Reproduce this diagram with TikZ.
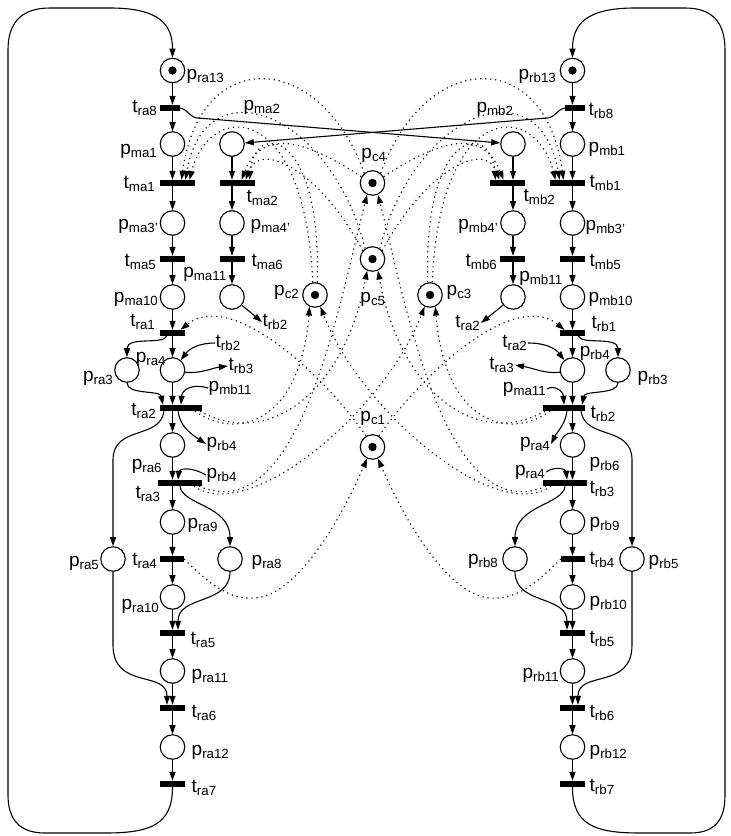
\documentclass[tikz,border=0pt]{standalone}
\usepackage{fontspec}
\setmainfont{Liberation Sans}
\usetikzlibrary{arrows.meta, calc}
\newcommand{\lfont}{\fontsize{19}{21}\selectfont}
\newcommand{\pname}[1]{p\textsubscript{#1}}
\newcommand{\tname}[1]{t\textsubscript{#1}}
\tikzset{
    place/.style={circle, draw=black, line width=1.1pt, minimum size=24.5pt, inner sep=0pt},
    token/.style={place, path picture={\fill[black] (path picture bounding box.center) circle (4.2pt);}},
    trans/.style={fill=black, inner sep=0pt, minimum height=6pt, minimum width=#1},
    trans/.default=25pt,
    txt/.style={inner sep=0.5pt, font=\lfont},
    arc/.style={->, line width=1.1pt},
    ctl/.style={->, line width=1.1pt, dash pattern=on 1.2pt off 3.8pt}
}

\begin{document}
\begin{tikzpicture}[x=1pt, y=-1pt, >={Triangle[length=9pt,width=6pt]}]
    \path[use as bounding box] (0,0) rectangle (731,836);

    % left robot column
    \node[token] (pra13) at (172.5,70.5) {};
    \node[trans=20pt] (tra8) at (170,108) {};
    \node[place] (pma1) at (172.5,144) {};
    \node[trans=35pt] (tma1) at (177.5,183) {};
    \node[place] (pma3) at (172.5,223) {};
    \node[trans] (tma5) at (172.5,259) {};
    \node[place] (pma10) at (172.5,297) {};
    \node[trans] (tra1) at (172.5,333) {};
    \node[place] (pra4) at (172.5,370) {};
    \node[place] (pra3) at (127,370) {};
    \node[trans=42pt] (tra2) at (181,408) {};
    \node[place] (pra6) at (172.5,445) {};
    \node[trans=44pt] (tra3) at (180,483) {};
    \node[place] (pra9) at (172.5,522) {};
    \node[trans=24pt] (tra4) at (172,559) {};
    \node[place] (pra5) at (113,559) {};
    \node[place] (pra8) at (230,559) {};
    \node[place] (pra10) at (172.5,597) {};
    \node[trans] (tra5) at (172.5,633) {};
    \node[place] (pra11) at (172.5,671) {};
    \node[trans] (tra6) at (172.5,708) {};
    \node[place] (pra12) at (172.5,747) {};
    \node[trans] (tra7) at (172.5,784) {};
    \node[place] (pma2) at (232,144) {};
    \node[trans=35pt] (tma2) at (237.5,183) {};
    \node[place] (pma4) at (232,223) {};
    \node[trans] (tma6) at (232.5,259) {};
    \node[place] (pma11) at (232,297) {};

    % right robot column
    \node[token] (prb13) at (572.5,70.5) {};
    \node[trans=20pt] (trb8) at (575,108) {};
    \node[place] (pmb1) at (572.5,144) {};
    \node[trans=35pt] (tmb1) at (567.5,183) {};
    \node[place] (pmb3) at (572.5,223) {};
    \node[trans] (tmb5) at (572.5,259) {};
    \node[place] (pmb10) at (572.5,297) {};
    \node[trans] (trb1) at (572.5,333) {};
    \node[place] (prb4) at (572.5,370) {};
    \node[place] (prb3) at (618,370) {};
    \node[trans=42pt] (trb2) at (564,408) {};
    \node[place] (prb6) at (572.5,445) {};
    \node[trans=44pt] (trb3) at (565,483) {};
    \node[place] (prb9) at (572.5,522) {};
    \node[trans=24pt] (trb4) at (573,559) {};
    \node[place] (prb5) at (632,559) {};
    \node[place] (prb8) at (515,559) {};
    \node[place] (prb10) at (572.5,597) {};
    \node[trans] (trb5) at (572.5,633) {};
    \node[place] (prb11) at (572.5,671) {};
    \node[trans] (trb6) at (572.5,708) {};
    \node[place] (prb12) at (572.5,747) {};
    \node[trans] (trb7) at (572.5,784) {};
    \node[place] (pmb2) at (513,144) {};
    \node[trans=35pt] (tmb2) at (507.5,183) {};
    \node[place] (pmb4) at (513,223) {};
    \node[trans] (tmb6) at (512.5,259) {};
    \node[place] (pmb11) at (513,297) {};

    % shared places
    \node[token] (pc4) at (372.5,183) {};
    \node[token] (pc5) at (372.5,259) {};
    \node[token] (pc2) at (315,295) {};
    \node[token] (pc3) at (430,295) {};
    \node[token] (pc1) at (372.5,447) {};

    % labels, left
    \node[txt, anchor=west] (lpra13) at (186,76) {\pname{ra13}};
    \node[txt, anchor=east] (ltra8) at (158,108) {\tname{ra8}};
    \node[txt, anchor=east] (lpma1) at (158,151) {\pname{ma1}};
    \node[txt, anchor=east] (ltma1) at (156,184) {\tname{ma1}};
    \node[txt, anchor=east] (lpma3) at (159,226) {\pname{ma3'}};
    \node[txt, anchor=east] (ltma5) at (157,262) {\tname{ma5}};
    \node[txt, anchor=east] (lpma10) at (159,299) {\pname{ma10}};
    \node[txt, anchor=east] (ltra1) at (156,322) {\tname{ra1}};
    \node[txt] (lpra4) at (151,359) {\pname{ra4}};
    \node[txt, anchor=east] (lpra3) at (114,378) {\pname{ra3}};
    \node[txt, anchor=east] (ltra2) at (157,411) {\tname{ra2}};
    \node[txt] (lpra6) at (147,466) {\pname{ra6}};
    \node[txt] (ltra3) at (148,494) {\tname{ra3}};
    \node[txt, anchor=west] (lpra9) at (187,525) {\pname{ra9}};
    \node[txt, anchor=east] (lpra5) at (100,563) {\pname{ra5}};
    \node[txt, anchor=east] (ltra4) at (158,561) {\tname{ra4}};
    \node[txt, anchor=west] (lpra8) at (251,562) {\pname{ra8}};
    \node[txt, anchor=east] (lpra10) at (160,606) {\pname{ra10}};
    \node[txt, anchor=west] (ltra5) at (190,640) {\tname{ra5}};
    \node[txt, anchor=west] (lpra11) at (191,676) {\pname{ra11}};
    \node[txt, anchor=west] (ltra6) at (191,713) {\tname{ra6}};
    \node[txt, anchor=west] (lpra12) at (191,752) {\pname{ra12}};
    \node[txt, anchor=west] (ltra7) at (191,788) {\tname{ra7}};
    \node[txt] (lpma2) at (262,107) {\pname{ma2}};
    \node[txt, anchor=west] (ltma2) at (246,198) {\tname{ma2}};
    \node[txt, anchor=west] (lpma4) at (250,226) {\pname{ma4'}};
    \node[txt, anchor=west] (ltma6) at (251,262) {\tname{ma6}};
    \node[txt] (lpma11) at (205,274) {\pname{ma11}};
    \node[txt, anchor=west] (sa1) at (262,322) {\tname{rb2}};
    \node[txt, anchor=west] (sa2) at (215,343) {\tname{rb2}};
    \node[txt, anchor=west] (sa3) at (228,366) {\tname{rb3}};
    \node[txt, anchor=west] (sa4) at (208,388) {\pname{mb11}};
    \node[txt, anchor=west] (sa5) at (206,444) {\pname{rb4}};
    \node[txt, anchor=west] (sa6) at (206,475) {\pname{rb4}};

    % labels, shared
    \node[txt] (lpc4) at (374,155) {\pname{c4}};
    \node[txt] (lpc5) at (373,299) {\pname{c5}};
    \node[txt, anchor=east] (lpc2) at (300,292) {\pname{c2}};
    \node[txt, anchor=west] (lpc3) at (446,292) {\pname{c3}};
    \node[txt] (lpc1) at (373,418) {\pname{c1}};

    % labels, right
    \node[txt, anchor=east] (lprb13) at (557,76) {\pname{rb13}};
    \node[txt, anchor=west] (ltrb8) at (588,111) {\tname{rb8}};
    \node[txt, anchor=west] (lpmb1) at (588,149) {\pname{mb1}};
    \node[txt, anchor=west] (ltmb1) at (589,183) {\tname{mb1}};
    \node[txt, anchor=west] (lpmb3) at (585,227) {\pname{mb3'}};
    \node[txt, anchor=west] (ltmb5) at (589,262) {\tname{mb5}};
    \node[txt, anchor=west] (lpmb10) at (588,299) {\pname{mb10}};
    \node[txt, anchor=west] (ltrb1) at (591,324) {\tname{rb1}};
    \node[txt] (lprb4) at (595,353) {\pname{rb4}};
    \node[txt, anchor=west] (lprb3) at (637,378) {\pname{rb3}};
    \node[txt, anchor=west] (ltrb2) at (590,414) {\tname{rb2}};
    \node[txt, anchor=west] (lprb6) at (589,464) {\pname{rb6}};
    \node[txt, anchor=west] (ltrb3) at (589,489) {\tname{rb3}};
    \node[txt, anchor=west] (lprb9) at (589,524) {\pname{rb9}};
    \node[txt, anchor=west] (ltrb4) at (589,560) {\tname{rb4}};
    \node[txt, anchor=west] (lprb5) at (648,562) {\pname{rb5}};
    \node[txt, anchor=east] (lprb8) at (499,561) {\pname{rb8}};
    \node[txt, anchor=west] (lprb10) at (589,603) {\pname{rb10}};
    \node[txt, anchor=west] (ltrb5) at (589,639) {\tname{rb5}};
    \node[txt, anchor=east] (lprb11) at (560,675) {\pname{rb11}};
    \node[txt, anchor=west] (ltrb6) at (589,713) {\tname{rb6}};
    \node[txt, anchor=west] (lprb12) at (589,752) {\pname{rb12}};
    \node[txt, anchor=west] (ltrb7) at (589,787) {\tname{rb7}};
    \node[txt] (lpmb2) at (495,109) {\pname{mb2}};
    \node[txt, anchor=west] (ltmb2) at (523,197) {\tname{mb2}};
    \node[txt, anchor=east] (lpmb4) at (499,226) {\pname{mb4'}};
    \node[txt, anchor=east] (ltmb6) at (498,262) {\tname{mb6}};
    \node[txt] (lpmb11) at (541,278) {\pname{mb11}};
    \node[txt, anchor=east] (sb1) at (481,323) {\tname{ra2}};
    \node[txt, anchor=east] (sb2) at (528,343) {\tname{ra2}};
    \node[txt, anchor=east] (sb3) at (515,365) {\tname{ra3}};
    \node[txt, anchor=east] (sb4) at (547,389) {\pname{ma11}};
    \node[txt, anchor=east] (sb5) at (551,444) {\pname{ra4}};
    \node[txt, anchor=east] (sb6) at (546,472) {\pname{ra4}};

    % straight flow along the columns
    \foreach \p/\t in {pra13/tra8, pma1/tma1, pma3/tma5, pma10/tra1, pra4/tra2, pra6/tra3,
        pra9/tra4, pra10/tra5, pra11/tra6, pra12/tra7, pma2/tma2, pma4/tma6,
        prb13/trb8, pmb1/tmb1, pmb3/tmb5, pmb10/trb1, prb4/trb2, prb6/trb3,
        prb9/trb4, prb10/trb5, prb11/trb6, prb12/trb7, pmb2/tmb2, pmb4/tmb6}
        \draw[arc] (\p) -- (\p |- \t.north);
    \foreach \t/\p in {tra8/pma1, tma1/pma3, tma5/pma10, tra1/pra4, tra2/pra6, tra3/pra9,
        tra4/pra10, tra5/pra11, tra6/pra12, tma2/pma4, tma6/pma11,
        trb8/pmb1, tmb1/pmb3, tmb5/pmb10, trb1/prb4, trb2/prb6, trb3/prb9,
        trb4/prb10, trb5/prb11, trb6/prb12, tmb2/pmb4, tmb6/pmb11}
        \draw[arc] (\p |- \t.south) -- (\p);

    % return loops
    \draw[arc] (tra7.south) .. controls (172.5,825) and (150,833) .. (105,833) -- (45,833)
        .. controls (20,833) and (8,820) .. (8,795) -- (8,50)
        .. controls (8,22) and (22,8) .. (50,8) -- (110,8)
        .. controls (160,8) and (172.5,25) .. (pra13.north);
    \draw[arc] (trb7.south) .. controls (572.5,825) and (595,833) .. (640,833) -- (690,833)
        .. controls (715,833) and (725,820) .. (725,795) -- (725,50)
        .. controls (725,22) and (712,8) .. (685,8) -- (635,8)
        .. controls (585,8) and (572.5,25) .. (prb13.north);

    % machine hand-over
    \draw[arc] (tra8.east) .. controls +(6,0) and +(-8,0) .. (198,118) -- (pmb2);
    \draw[arc] (trb8.west) .. controls +(-6,0) and +(8,0) .. (547,118) -- (pma2);

    % side branches, left
    \draw[arc] ([xshift=-6]tra1.south) .. controls (164,345) and (127,336) .. (pra3.north);
    \draw[arc] (pra3.south) .. controls (127,395) and (160,390) .. ([xshift=-18]tra2.north);
    \draw[arc] ([xshift=-17]tra2.south) .. controls (160,440) and (113,425) .. (113,460) -- (pra5.north);
    \draw[arc] (tra3.south) .. controls (182,505) and (230,505) .. (pra8.north);
    \draw[arc] (pra8.south) .. controls (230,605) and (178,595) .. ([xshift=5.5]tra5.north);
    \draw[arc] (pra5.south) -- (113,645) .. controls (113,690) and (167,670) .. ([xshift=-5.5]tra6.north);
    \draw[arc] (pma11) -- (sa1.west);
    \draw[arc] (sa2.west) .. controls (200,343) and (190,348) .. (pra4.50);
    \draw[arc] (pra4.-10) .. controls (200,374) and (212,368) .. (sa3.west);
    \draw[arc] (sa4.west) .. controls (192,383) and (182,390) .. (tra2.north);
    \draw[arc] ([xshift=-3]tra2.south) .. controls (180,425) and (188,432) .. (sa5.west);
    \draw[arc] (sa6.west) .. controls (188,465) and (179,470) .. ([xshift=-2]tra3.north);

    % side branches, right
    \draw[arc] ([xshift=6]trb1.south) .. controls (581,345) and (618,336) .. (prb3.north);
    \draw[arc] (prb3.south) .. controls (618,395) and (585,390) .. ([xshift=18]trb2.north);
    \draw[arc] ([xshift=17]trb2.south) .. controls (585,440) and (632,425) .. (632,460) -- (prb5.north);
    \draw[arc] (trb3.south) .. controls (563,505) and (515,505) .. (prb8.north);
    \draw[arc] (prb8.south) .. controls (515,605) and (567,595) .. ([xshift=-5.5]trb5.north);
    \draw[arc] (prb5.south) -- (632,645) .. controls (632,690) and (578,670) .. ([xshift=5.5]trb6.north);
    \draw[arc] (pmb11) -- (sb1.east);
    \draw[arc] (sb2.east) .. controls (545,343) and (555,348) .. (prb4.130);
    \draw[arc] (prb4.190) .. controls (545,374) and (533,368) .. (sb3.east);
    \draw[arc] (sb4.east) .. controls (553,385) and (563,390) .. (trb2.north);
    \draw[arc] ([xshift=3]trb2.south) .. controls (565,425) and (557,432) .. (sb5.east);
    \draw[arc] (sb6.east) .. controls (557,465) and (566,470) .. ([xshift=2]trb3.north);

    % control places, left
    \draw[ctl] ([xshift=14]tra2.south) .. controls (235,440) and (300,425) .. (pc2.-115);
    \draw[ctl] ([xshift=19]tra2.south) .. controls (270,450) and (345,390) .. (pc5.-115);
    \draw[ctl] ([xshift=14]tra3.south) .. controls (250,525) and (385,410) .. (pc3.-115);
    \draw[ctl] ([xshift=19]tra3.south) .. controls (300,530) and (340,300) .. (pc4.-115);
    \draw[ctl] (tra4.east) .. controls (210,585) and (230,600) .. (255,598)
        .. controls (300,595) and (345,510) .. (pc1.-115);
    \draw[ctl] (pc4.130) .. controls (320,50) and (200,45) .. ([xshift=4]tma1.north);
    \draw[ctl] (pc5.125) .. controls (330,110) and (205,65) .. ([xshift=8]tma1.north);
    \draw[ctl] (pc2.100) .. controls (305,100) and (210,100) .. ([xshift=12]tma1.north);
    \draw[ctl] (pc4.150) .. controls (320,150) and (265,120) .. ([xshift=4]tma2.north);
    \draw[ctl] (pc5.140) .. controls (320,170) and (260,140) .. ([xshift=8]tma2.north);
    \draw[ctl] (pc2.80) .. controls (322,130) and (255,120) .. ([xshift=12]tma2.north);
    \draw[ctl] (pc1.120) .. controls (320,370) and (230,290) .. ([xshift=8]tra1.north);

    % control places, right
    \draw[ctl] ([xshift=-14]trb2.south) .. controls (510,440) and (445,425) .. (pc3.-65);
    \draw[ctl] ([xshift=-19]trb2.south) .. controls (475,450) and (400,390) .. (pc5.-65);
    \draw[ctl] ([xshift=-14]trb3.south) .. controls (495,525) and (360,410) .. (pc2.-65);
    \draw[ctl] ([xshift=-19]trb3.south) .. controls (445,530) and (405,300) .. (pc4.-65);
    \draw[ctl] (trb4.west) .. controls (535,585) and (515,600) .. (490,598)
        .. controls (445,595) and (400,510) .. (pc1.-65);
    \draw[ctl] (pc4.50) .. controls (425,50) and (545,45) .. ([xshift=-4]tmb1.north);
    \draw[ctl] (pc5.55) .. controls (415,110) and (540,65) .. ([xshift=-8]tmb1.north);
    \draw[ctl] (pc3.80) .. controls (440,100) and (535,100) .. ([xshift=-12]tmb1.north);
    \draw[ctl] (pc4.30) .. controls (425,150) and (480,120) .. ([xshift=-4]tmb2.north);
    \draw[ctl] (pc5.40) .. controls (425,170) and (485,140) .. ([xshift=-8]tmb2.north);
    \draw[ctl] (pc3.100) .. controls (423,130) and (490,120) .. ([xshift=-12]tmb2.north);
    \draw[ctl] (pc1.60) .. controls (425,370) and (515,290) .. ([xshift=-8]trb1.north);
\end{tikzpicture}
\end{document}
